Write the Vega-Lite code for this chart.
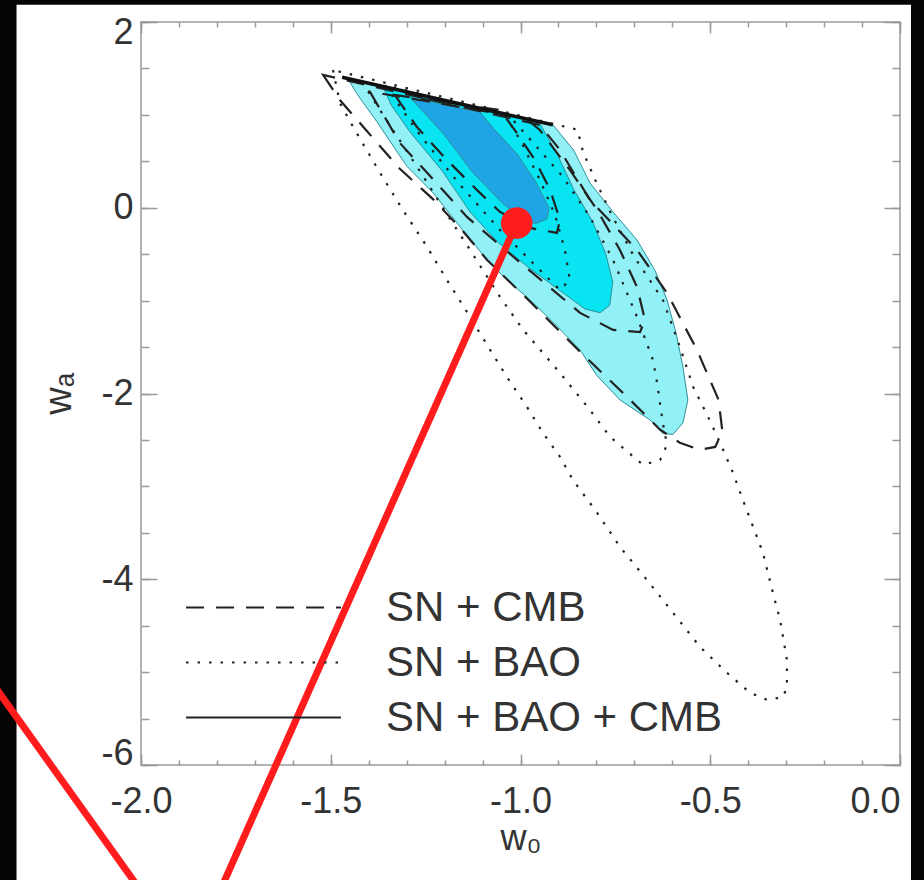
{
  "$schema": "https://vega.github.io/schema/vega-lite/v6.json",
  "width": 759,
  "height": 743,
  "autosize": {"type": "none"},
  "padding": {"left": 141, "top": 22, "right": 24, "bottom": 115},
  "background": "white",
  "config": {"view": {"stroke": "#9a9a9a", "strokeWidth": 1.5}, "font": "Liberation Sans"},
  "datasets": {
    "border": [
      {"x1": -2.5, "x2": -2.328, "y1": -8, "y2": 3},
      {"x1": -2.5, "x2": 0.3, "y1": 2.185, "y2": 3},
      {"x1": 0.029, "x2": 0.3, "y1": -8, "y2": 3}
    ],
    "fill3": [
      {"i": 1, "w0": -1.455, "wa": 1.39}, {"i": 2, "w0": -1.30, "wa": 1.245}, {"i": 3, "w0": -1.15, "wa": 1.105},
      {"i": 4, "w0": -1.00, "wa": 0.97}, {"i": 5, "w0": -0.915, "wa": 0.895}, {"i": 6, "w0": -0.86, "wa": 0.62},
      {"i": 7, "w0": -0.817, "wa": 0.267}, {"i": 8, "w0": -0.755, "wa": -0.05}, {"i": 9, "w0": -0.693, "wa": -0.347},
      {"i": 10, "w0": -0.645, "wa": -0.68}, {"i": 11, "w0": -0.614, "wa": -0.992}, {"i": 12, "w0": -0.59, "wa": -1.35},
      {"i": 13, "w0": -0.572, "wa": -1.714}, {"i": 14, "w0": -0.559, "wa": -2.07}, {"i": 15, "w0": -0.572, "wa": -2.316},
      {"i": 16, "w0": -0.598, "wa": -2.44}, {"i": 17, "w0": -0.625, "wa": -2.43}, {"i": 18, "w0": -0.659, "wa": -2.284},
      {"i": 19, "w0": -0.738, "wa": -2.069}, {"i": 20, "w0": -0.80, "wa": -1.80}, {"i": 21, "w0": -0.843, "wa": -1.531},
      {"i": 22, "w0": -0.91, "wa": -1.25}, {"i": 23, "w0": -0.975, "wa": -0.992}, {"i": 24, "w0": -1.04, "wa": -0.76},
      {"i": 25, "w0": -1.088, "wa": -0.562}, {"i": 26, "w0": -1.159, "wa": -0.207}, {"i": 27, "w0": -1.23, "wa": 0.159},
      {"i": 28, "w0": -1.30, "wa": 0.45}, {"i": 29, "w0": -1.378, "wa": 0.924}, {"i": 30, "w0": -1.43, "wa": 1.22}
    ],
    "fill2": [
      {"i": 1, "w0": -1.362, "wa": 1.30}, {"i": 2, "w0": -1.25, "wa": 1.19}, {"i": 3, "w0": -1.10, "wa": 1.05},
      {"i": 4, "w0": -0.95, "wa": 0.915}, {"i": 5, "w0": -0.90, "wa": 0.55}, {"i": 6, "w0": -0.86, "wa": 0.20},
      {"i": 7, "w0": -0.81, "wa": -0.15}, {"i": 8, "w0": -0.775, "wa": -0.50}, {"i": 9, "w0": -0.757, "wa": -0.80},
      {"i": 10, "w0": -0.765, "wa": -1.05}, {"i": 11, "w0": -0.79, "wa": -1.13}, {"i": 12, "w0": -0.83, "wa": -1.09},
      {"i": 13, "w0": -0.90, "wa": -0.88}, {"i": 14, "w0": -0.98, "wa": -0.64}, {"i": 15, "w0": -1.06, "wa": -0.37},
      {"i": 16, "w0": -1.133, "wa": -0.045}, {"i": 17, "w0": -1.204, "wa": 0.385}, {"i": 18, "w0": -1.291, "wa": 0.816},
      {"i": 19, "w0": -1.34, "wa": 1.10}
    ],
    "fill1": [
      {"i": 1, "w0": -1.291, "wa": 1.19}, {"i": 2, "w0": -1.20, "wa": 1.11}, {"i": 3, "w0": -1.107, "wa": 1.03},
      {"i": 4, "w0": -1.07, "wa": 0.85}, {"i": 5, "w0": -1.009, "wa": 0.58}, {"i": 6, "w0": -0.96, "wa": 0.28},
      {"i": 7, "w0": -0.925, "wa": 0.0}, {"i": 8, "w0": -0.93, "wa": -0.12}, {"i": 9, "w0": -0.96, "wa": -0.17},
      {"i": 10, "w0": -1.0, "wa": -0.12}, {"i": 11, "w0": -1.05, "wa": 0.06}, {"i": 12, "w0": -1.125, "wa": 0.375},
      {"i": 13, "w0": -1.204, "wa": 0.80}, {"i": 14, "w0": -1.26, "wa": 1.05}
    ],
    "contours": [
      {"set": "SN + CMB", "id": "d3", "i": 1, "w0": -1.52, "wa": 1.43},
      {"set": "SN + CMB", "id": "d3", "i": 2, "w0": -1.476, "wa": 1.16},
      {"set": "SN + CMB", "id": "d3", "i": 3, "w0": -1.41, "wa": 0.85},
      {"set": "SN + CMB", "id": "d3", "i": 4, "w0": -1.318, "wa": 0.42},
      {"set": "SN + CMB", "id": "d3", "i": 5, "w0": -1.23, "wa": 0.09},
      {"set": "SN + CMB", "id": "d3", "i": 6, "w0": -1.159, "wa": -0.217},
      {"set": "SN + CMB", "id": "d3", "i": 7, "w0": -1.088, "wa": -0.562},
      {"set": "SN + CMB", "id": "d3", "i": 8, "w0": -0.975, "wa": -1.01},
      {"set": "SN + CMB", "id": "d3", "i": 9, "w0": -0.843, "wa": -1.55},
      {"set": "SN + CMB", "id": "d3", "i": 10, "w0": -0.711, "wa": -2.069},
      {"set": "SN + CMB", "id": "d3", "i": 11, "w0": -0.632, "wa": -2.39},
      {"set": "SN + CMB", "id": "d3", "i": 12, "w0": -0.58, "wa": -2.53},
      {"set": "SN + CMB", "id": "d3", "i": 13, "w0": -0.527, "wa": -2.607},
      {"set": "SN + CMB", "id": "d3", "i": 14, "w0": -0.487, "wa": -2.575},
      {"set": "SN + CMB", "id": "d3", "i": 15, "w0": -0.468, "wa": -2.41},
      {"set": "SN + CMB", "id": "d3", "i": 16, "w0": -0.478, "wa": -2.069},
      {"set": "SN + CMB", "id": "d3", "i": 17, "w0": -0.535, "wa": -1.531},
      {"set": "SN + CMB", "id": "d3", "i": 18, "w0": -0.614, "wa": -0.917},
      {"set": "SN + CMB", "id": "d3", "i": 19, "w0": -0.693, "wa": -0.454},
      {"set": "SN + CMB", "id": "d3", "i": 20, "w0": -0.817, "wa": 0.084},
      {"set": "SN + CMB", "id": "d3", "i": 21, "w0": -0.896, "wa": 0.622},
      {"set": "SN + CMB", "id": "d3", "i": 22, "w0": -0.949, "wa": 0.891},
      {"set": "SN + CMB", "id": "d2", "i": 1, "w0": -1.397, "wa": 1.25},
      {"set": "SN + CMB", "id": "d2", "i": 2, "w0": -1.318, "wa": 0.698},
      {"set": "SN + CMB", "id": "d2", "i": 3, "w0": -1.212, "wa": 0.224},
      {"set": "SN + CMB", "id": "d2", "i": 4, "w0": -1.141, "wa": -0.099},
      {"set": "SN + CMB", "id": "d2", "i": 5, "w0": -1.009, "wa": -0.562},
      {"set": "SN + CMB", "id": "d2", "i": 6, "w0": -0.843, "wa": -1.132},
      {"set": "SN + CMB", "id": "d2", "i": 7, "w0": -0.756, "wa": -1.315},
      {"set": "SN + CMB", "id": "d2", "i": 8, "w0": -0.685, "wa": -1.34},
      {"set": "SN + CMB", "id": "d2", "i": 9, "w0": -0.672, "wa": -1.208},
      {"set": "SN + CMB", "id": "d2", "i": 10, "w0": -0.693, "wa": -0.853},
      {"set": "SN + CMB", "id": "d2", "i": 11, "w0": -0.738, "wa": -0.454},
      {"set": "SN + CMB", "id": "d2", "i": 12, "w0": -0.798, "wa": -0.024},
      {"set": "SN + CMB", "id": "d2", "i": 13, "w0": -0.870, "wa": 0.407},
      {"set": "SN + CMB", "id": "d2", "i": 14, "w0": -0.949, "wa": 0.837},
      {"set": "SN + CMB", "id": "d2", "i": 15, "w0": -0.988, "wa": 0.967},
      {"set": "SN + CMB", "id": "d1", "i": 1, "w0": -1.331, "wa": 1.214},
      {"set": "SN + CMB", "id": "d1", "i": 2, "w0": -1.273, "wa": 0.870},
      {"set": "SN + CMB", "id": "d1", "i": 3, "w0": -1.194, "wa": 0.515},
      {"set": "SN + CMB", "id": "d1", "i": 4, "w0": -1.115, "wa": 0.192},
      {"set": "SN + CMB", "id": "d1", "i": 5, "w0": -1.054, "wa": -0.045},
      {"set": "SN + CMB", "id": "d1", "i": 6, "w0": -0.975, "wa": -0.217},
      {"set": "SN + CMB", "id": "d1", "i": 7, "w0": -0.904, "wa": -0.271},
      {"set": "SN + CMB", "id": "d1", "i": 8, "w0": -0.896, "wa": -0.131},
      {"set": "SN + CMB", "id": "d1", "i": 9, "w0": -0.922, "wa": 0.192},
      {"set": "SN + CMB", "id": "d1", "i": 10, "w0": -0.962, "wa": 0.515},
      {"set": "SN + CMB", "id": "d1", "i": 11, "w0": -1.015, "wa": 0.837},
      {"set": "SN + CMB", "id": "d1", "i": 12, "w0": -1.054, "wa": 1.053},
      {"set": "SN + BAO", "id": "b3", "i": 1, "w0": -1.494, "wa": 1.483},
      {"set": "SN + BAO", "id": "b3", "i": 2, "w0": -1.476, "wa": 1.128},
      {"set": "SN + BAO", "id": "b3", "i": 3, "w0": -1.441, "wa": 0.870},
      {"set": "SN + BAO", "id": "b3", "i": 4, "w0": -1.370, "wa": 0.375},
      {"set": "SN + BAO", "id": "b3", "i": 5, "w0": -1.310, "wa": -0.024},
      {"set": "SN + BAO", "id": "b3", "i": 6, "w0": -1.246, "wa": -0.422},
      {"set": "SN + BAO", "id": "b3", "i": 7, "w0": -1.194, "wa": -0.777},
      {"set": "SN + BAO", "id": "b3", "i": 8, "w0": -1.133, "wa": -1.175},
      {"set": "SN + BAO", "id": "b3", "i": 9, "w0": -1.080, "wa": -1.531},
      {"set": "SN + BAO", "id": "b3", "i": 10, "w0": -1.036, "wa": -1.821},
      {"set": "SN + BAO", "id": "b3", "i": 11, "w0": -0.983, "wa": -2.144},
      {"set": "SN + BAO", "id": "b3", "i": 12, "w0": -0.941, "wa": -2.424},
      {"set": "SN + BAO", "id": "b3", "i": 13, "w0": -0.896, "wa": -2.682},
      {"set": "SN + BAO", "id": "b3", "i": 14, "w0": -0.862, "wa": -2.930},
      {"set": "SN + BAO", "id": "b3", "i": 15, "w0": -0.798, "wa": -3.285},
      {"set": "SN + BAO", "id": "b3", "i": 16, "w0": -0.738, "wa": -3.651},
      {"set": "SN + BAO", "id": "b3", "i": 17, "w0": -0.667, "wa": -4.006},
      {"set": "SN + BAO", "id": "b3", "i": 18, "w0": -0.598, "wa": -4.362},
      {"set": "SN + BAO", "id": "b3", "i": 19, "w0": -0.527, "wa": -4.728},
      {"set": "SN + BAO", "id": "b3", "i": 20, "w0": -0.456, "wa": -5.007},
      {"set": "SN + BAO", "id": "b3", "i": 21, "w0": -0.395, "wa": -5.223},
      {"set": "SN + BAO", "id": "b3", "i": 22, "w0": -0.350, "wa": -5.298},
      {"set": "SN + BAO", "id": "b3", "i": 23, "w0": -0.308, "wa": -5.27},
      {"set": "SN + BAO", "id": "b3", "i": 24, "w0": -0.298, "wa": -5.158},
      {"set": "SN + BAO", "id": "b3", "i": 25, "w0": -0.298, "wa": -4.868},
      {"set": "SN + BAO", "id": "b3", "i": 26, "w0": -0.316, "wa": -4.437},
      {"set": "SN + BAO", "id": "b3", "i": 27, "w0": -0.335, "wa": -4.146},
      {"set": "SN + BAO", "id": "b3", "i": 28, "w0": -0.361, "wa": -3.716},
      {"set": "SN + BAO", "id": "b3", "i": 29, "w0": -0.387, "wa": -3.436},
      {"set": "SN + BAO", "id": "b3", "i": 30, "w0": -0.414, "wa": -3.145},
      {"set": "SN + BAO", "id": "b3", "i": 31, "w0": -0.440, "wa": -2.855},
      {"set": "SN + BAO", "id": "b3", "i": 32, "w0": -0.466, "wa": -2.607},
      {"set": "SN + BAO", "id": "b3", "i": 33, "w0": -0.500, "wa": -2.30},
      {"set": "SN + BAO", "id": "b3", "i": 34, "w0": -0.545, "wa": -1.929},
      {"set": "SN + BAO", "id": "b3", "i": 35, "w0": -0.580, "wa": -1.498},
      {"set": "SN + BAO", "id": "b3", "i": 36, "w0": -0.625, "wa": -0.99},
      {"set": "SN + BAO", "id": "b3", "i": 37, "w0": -0.700, "wa": -0.53},
      {"set": "SN + BAO", "id": "b3", "i": 38, "w0": -0.757, "wa": -0.10},
      {"set": "SN + BAO", "id": "b3", "i": 39, "w0": -0.800, "wa": 0.27},
      {"set": "SN + BAO", "id": "b3", "i": 40, "w0": -0.835, "wa": 0.60},
      {"set": "SN + BAO", "id": "b3", "i": 41, "w0": -0.850, "wa": 0.84},
      {"set": "SN + BAO", "id": "b2", "i": 1, "w0": -1.418, "wa": 1.354},
      {"set": "SN + BAO", "id": "b2", "i": 2, "w0": -1.331, "wa": 0.805},
      {"set": "SN + BAO", "id": "b2", "i": 3, "w0": -1.262, "wa": 0.375},
      {"set": "SN + BAO", "id": "b2", "i": 4, "w0": -1.196, "wa": -0.056},
      {"set": "SN + BAO", "id": "b2", "i": 5, "w0": -1.133, "wa": -0.454},
      {"set": "SN + BAO", "id": "b2", "i": 6, "w0": -1.054, "wa": -0.960},
      {"set": "SN + BAO", "id": "b2", "i": 7, "w0": -0.993, "wa": -1.315},
      {"set": "SN + BAO", "id": "b2", "i": 8, "w0": -0.896, "wa": -1.778},
      {"set": "SN + BAO", "id": "b2", "i": 9, "w0": -0.817, "wa": -2.177},
      {"set": "SN + BAO", "id": "b2", "i": 10, "w0": -0.764, "wa": -2.467},
      {"set": "SN + BAO", "id": "b2", "i": 11, "w0": -0.677, "wa": -2.769},
      {"set": "SN + BAO", "id": "b2", "i": 12, "w0": -0.632, "wa": -2.715},
      {"set": "SN + BAO", "id": "b2", "i": 13, "w0": -0.614, "wa": -2.553},
      {"set": "SN + BAO", "id": "b2", "i": 14, "w0": -0.625, "wa": -2.316},
      {"set": "SN + BAO", "id": "b2", "i": 15, "w0": -0.640, "wa": -1.886},
      {"set": "SN + BAO", "id": "b2", "i": 16, "w0": -0.651, "wa": -1.638},
      {"set": "SN + BAO", "id": "b2", "i": 17, "w0": -0.693, "wa": -1.175},
      {"set": "SN + BAO", "id": "b2", "i": 18, "w0": -0.756, "wa": -0.562},
      {"set": "SN + BAO", "id": "b2", "i": 19, "w0": -0.817, "wa": -0.099},
      {"set": "SN + BAO", "id": "b2", "i": 20, "w0": -0.888, "wa": 0.332},
      {"set": "SN + BAO", "id": "b2", "i": 21, "w0": -0.957, "wa": 0.654},
      {"set": "SN + BAO", "id": "b2", "i": 22, "w0": -1.020, "wa": 0.945},
      {"set": "SN + BAO", "id": "b2", "i": 23, "w0": -1.041, "wa": 1.02},
      {"set": "SN + BAO", "id": "b1", "i": 1, "w0": -1.357, "wa": 1.32},
      {"set": "SN + BAO", "id": "b1", "i": 2, "w0": -1.265, "wa": 0.784},
      {"set": "SN + BAO", "id": "b1", "i": 3, "w0": -1.159, "wa": 0.245},
      {"set": "SN + BAO", "id": "b1", "i": 4, "w0": -1.054, "wa": -0.239},
      {"set": "SN + BAO", "id": "b1", "i": 5, "w0": -0.949, "wa": -0.67},
      {"set": "SN + BAO", "id": "b1", "i": 6, "w0": -0.896, "wa": -0.885},
      {"set": "SN + BAO", "id": "b1", "i": 7, "w0": -0.870, "wa": -0.777},
      {"set": "SN + BAO", "id": "b1", "i": 8, "w0": -0.883, "wa": -0.454},
      {"set": "SN + BAO", "id": "b1", "i": 9, "w0": -0.909, "wa": -0.077},
      {"set": "SN + BAO", "id": "b1", "i": 10, "w0": -0.949, "wa": 0.30},
      {"set": "SN + BAO", "id": "b1", "i": 11, "w0": -1.001, "wa": 0.73},
      {"set": "SN + BAO", "id": "b1", "i": 12, "w0": -1.041, "wa": 1.0},
      {"set": "SN + BAO + CMB", "id": "s", "i": 1, "w0": -1.47, "wa": 1.405},
      {"set": "SN + BAO + CMB", "id": "s", "i": 2, "w0": -0.915, "wa": 0.893}
    ],
    "prior": [
      {"i": 1, "w0": -1.47, "wa": 1.405},
      {"i": 2, "w0": -0.915, "wa": 0.893}
    ],
    "red": [
      {"seg": "a", "i": 1, "w0": -1.01, "wa": -0.165},
      {"seg": "a", "i": 2, "w0": -1.808, "wa": -7.505},
      {"seg": "b", "i": 1, "w0": -2.398, "wa": -5.083},
      {"seg": "b", "i": 2, "w0": -1.974, "wa": -7.505}
    ],
    "dot": [
      {"w0": -1.01, "wa": -0.165}
    ]
  },
  "layer": [
    {
      "data": {"name": "border"},
      "mark": {"type": "rect", "color": "#050505", "clip": false},
      "encoding": {
        "x": {"field": "x1", "type": "quantitative", "scale": {"domain": [-2, 0], "nice": false, "zero": false},
          "axis": {"orient": "bottom", "values": [-2, -1.5, -1, -0.5, 0], "labelExpr": "replace(format(datum.value, '.1f'), '\u2212', '-')",
            "labelAlign": {"condition": {"test": "datum.value === 0", "value": "right"}, "value": "center"},
            "title": "w\u2080", "grid": false, "domain": false, "tickSize": -11, "tickWidth": 1.5, "tickColor": "#999",
            "labelPadding": 30, "labelFontSize": 36, "labelFont": "Liberation Sans", "labelColor": "#333",
            "titleFontSize": 36, "titleFont": "Liberation Sans", "titleFontWeight": "normal", "titleColor": "#333", "titlePadding": 2}},
        "x2": {"field": "x2"},
        "y": {"field": "y1", "type": "quantitative", "scale": {"domain": [-6, 2], "nice": false, "zero": false},
          "axis": {"orient": "left", "values": [-6, -4, -2, 0, 2], "labelExpr": "replace(format(datum.value, 'd'), '\u2212', '-')",
            "labelFlush": true, "labelFlushOffset": 7, "title": "w\u2090", "grid": false, "domain": false, "tickSize": -16, "tickWidth": 1.5, "tickColor": "#999",
            "labelPadding": 24, "labelFontSize": 36, "labelFont": "Liberation Sans", "labelColor": "#333",
            "titleFontSize": 38, "titleFont": "Liberation Sans", "titleFontWeight": "normal", "titleColor": "#333", "titlePadding": 22}},
        "y2": {"field": "y2"}
      }
    },
    {
      "data": {"name": "fill3"},
      "mark": {"type": "line", "interpolate": "linear-closed", "fill": "#92f1f6", "stroke": "#2f8f98", "strokeWidth": 1},
      "encoding": {
        "x": {"field": "w0", "type": "quantitative", "scale": {"domain": [-2, 0], "nice": false, "zero": false},
          "axis": {"orient": "bottom", "values": [-2, -1.9, -1.8, -1.7, -1.6, -1.5, -1.4, -1.3, -1.2, -1.1, -1, -0.9, -0.8, -0.7, -0.6, -0.5, -0.4, -0.3, -0.2, -0.1, 0],
            "labels": false, "title": null, "grid": false, "domain": false, "tickSize": -5, "tickWidth": 1.5, "tickColor": "#999"}},
        "y": {"field": "wa", "type": "quantitative", "scale": {"domain": [-6, 2], "nice": false, "zero": false},
          "axis": {"orient": "left", "values": [-6, -5.5, -5, -4.5, -4, -3.5, -3, -2.5, -2, -1.5, -1, -0.5, 0, 0.5, 1, 1.5, 2],
            "labels": false, "title": null, "grid": false, "domain": false, "tickSize": -8, "tickWidth": 1.5, "tickColor": "#999"}},
        "order": {"field": "i", "type": "quantitative"}
      }
    },
    {
      "data": {"name": "fill2"},
      "mark": {"type": "line", "interpolate": "linear-closed", "fill": "#08e4f2", "stroke": "#2f8f98", "strokeWidth": 1},
      "encoding": {
        "x": {"field": "w0", "type": "quantitative", "scale": {"domain": [-2, 0], "nice": false, "zero": false},
          "axis": {"orient": "top", "values": [-2, -1.5, -1, -0.5, 0], "labels": false, "title": null, "grid": false, "domain": false,
            "tickSize": -11, "tickWidth": 1.5, "tickColor": "#999"}},
        "y": {"field": "wa", "type": "quantitative", "scale": {"domain": [-6, 2], "nice": false, "zero": false},
          "axis": {"orient": "right", "values": [-6, -4, -2, 0, 2], "labels": false, "title": null, "grid": false, "domain": false,
            "tickSize": -16, "tickWidth": 1.5, "tickColor": "#999"}},
        "order": {"field": "i", "type": "quantitative"}
      }
    },
    {
      "data": {"name": "fill1"},
      "mark": {"type": "line", "interpolate": "linear-closed", "fill": "#1fa5e6", "stroke": "#2f8f98", "strokeWidth": 1},
      "encoding": {
        "x": {"field": "w0", "type": "quantitative", "scale": {"domain": [-2, 0], "nice": false, "zero": false},
          "axis": {"orient": "top", "values": [-2, -1.9, -1.8, -1.7, -1.6, -1.5, -1.4, -1.3, -1.2, -1.1, -1, -0.9, -0.8, -0.7, -0.6, -0.5, -0.4, -0.3, -0.2, -0.1, 0],
            "labels": false, "title": null, "grid": false, "domain": false, "tickSize": -5, "tickWidth": 1.5, "tickColor": "#999"}},
        "y": {"field": "wa", "type": "quantitative", "scale": {"domain": [-6, 2], "nice": false, "zero": false},
          "axis": {"orient": "right", "values": [-6, -5.5, -5, -4.5, -4, -3.5, -3, -2.5, -2, -1.5, -1, -0.5, 0, 0.5, 1, 1.5, 2],
            "labels": false, "title": null, "grid": false, "domain": false, "tickSize": -8, "tickWidth": 1.5, "tickColor": "#999"}},
        "order": {"field": "i", "type": "quantitative"}
      }
    },
    {
      "data": {"name": "contours"},
      "mark": {"type": "line", "interpolate": "linear-closed", "stroke": "#222", "strokeWidth": 2.2},
      "encoding": {
        "x": {"field": "w0", "type": "quantitative", "axis": null},
        "y": {"field": "wa", "type": "quantitative", "axis": null},
        "detail": {"field": "id", "type": "nominal"},
        "order": {"field": "i", "type": "quantitative"},
        "strokeDash": {"field": "set", "type": "nominal",
          "scale": {"domain": ["SN + CMB", "SN + BAO", "SN + BAO + CMB"], "range": [[18, 12], [2.5, 9], [1, 0]]},
          "legend": {"orient": "none", "legendX": 44, "legendY": 558, "title": null, "symbolType": "stroke", "symbolSize": 24000,
            "symbolStrokeWidth": 2, "symbolStrokeColor": "#222", "clipHeight": 55, "rowPadding": 0, "padding": 0,
            "labelFontSize": 42, "labelFont": "Liberation Sans", "labelColor": "#333", "labelOffset": 44, "labelLimit": 600}}
      }
    },
    {
      "data": {"name": "prior"},
      "mark": {"type": "line", "stroke": "#111", "strokeWidth": 3.5},
      "encoding": {
        "x": {"field": "w0", "type": "quantitative", "axis": null},
        "y": {"field": "wa", "type": "quantitative", "axis": null},
        "order": {"field": "i", "type": "quantitative"}
      }
    },
    {
      "data": {"name": "red"},
      "mark": {"type": "line", "stroke": "#ff1c1c", "strokeWidth": 7, "clip": false},
      "encoding": {
        "x": {"field": "w0", "type": "quantitative", "axis": null},
        "y": {"field": "wa", "type": "quantitative", "axis": null},
        "detail": {"field": "seg", "type": "nominal"},
        "order": {"field": "i", "type": "quantitative"}
      }
    },
    {
      "data": {"name": "dot"},
      "mark": {"type": "point", "shape": "circle", "filled": true, "color": "#ff1c1c", "opacity": 1, "size": 1000},
      "encoding": {
        "x": {"field": "w0", "type": "quantitative", "axis": null},
        "y": {"field": "wa", "type": "quantitative", "axis": null}
      }
    }
  ],
  "resolve": {"axis": {"x": "independent", "y": "independent"}}
}
